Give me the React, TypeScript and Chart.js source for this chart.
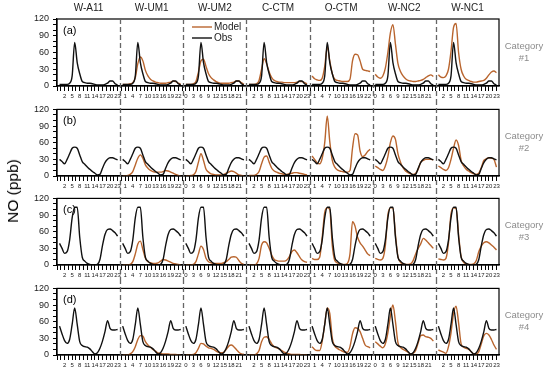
import React, { useEffect, useRef } from "react";
import { Chart, registerables } from "chart.js";

Chart.register(...registerables);

// ---------- data ----------
const groups = ["W-A11", "W-UM1", "W-UM2", "C-CTM", "O-CTM", "W-NC2", "W-NC1"];
const hours = [0, 1, 2, 3, 4, 5, 6, 7, 8, 9, 10, 11, 12, 13, 14, 15, 16, 17, 18, 19, 20, 21, 22, 23];
const yTickValues = [0, 30, 60, 90, 120];
const panelLetters = ["(a)", "(b)", "(c)", "(d)"];
const categoryNames = ["#1", "#2", "#3", "#4"];
const seriesNames = ["Obs", "Model"];

// Category #1
const obsCat1 = [3, 3, 3, 3, 5, 18, 78, 42, 22, 8, 6, 5, 5, 4, 3, 2, 2, 2, 3, 5, 9, 9, 4, 2];
const cat1WUM1 = [3, 3, 3, 4, 6, 15, 40, 52, 45, 28, 18, 12, 9, 7, 6, 5, 5, 5, 6, 7, 9, 8, 5, 3];
const cat1WUM2 = [3, 3, 3, 4, 8, 25, 45, 48, 35, 22, 15, 11, 8, 6, 5, 5, 5, 5, 6, 7, 9, 9, 6, 3];
const cat1CCTM = [3, 3, 3, 4, 10, 30, 49, 40, 25, 15, 10, 8, 7, 7, 6, 6, 6, 6, 6, 7, 8, 8, 6, 4];
const cat1OCTM = [18, 13, 11, 10, 14, 35, 70, 45, 22, 12, 10, 9, 8, 8, 8, 12, 45, 57, 56, 45, 30, 28, 27, 26];
const cat1WNC2 = [21, 16, 14, 18, 32, 60, 95, 110, 75, 40, 26, 18, 13, 10, 9, 8, 8, 9, 10, 12, 15, 18, 20, 17];
const cat1WNC1 = [20, 16, 15, 18, 30, 62, 105, 112, 60, 30, 18, 12, 10, 8, 7, 7, 8, 9, 10, 14, 20, 25, 27, 24];

// Category #2
const obsCat2 = [30, 26, 22, 30, 40, 50, 52, 50, 38, 26, 21, 16, 12, 8, 5, 2, 3, 14, 24, 30, 33, 33, 31, 29];
const cat2WUM1 = [0, 0, 1, 3, 8, 20, 32, 38, 32, 20, 14, 10, 8, 7, 7, 7, 8, 10, 9, 7, 5, 3, 1, 0];
const cat2WUM2 = [0, 0, 1, 2, 8, 25, 40, 28, 12, 7, 4, 3, 2, 2, 2, 3, 5, 7, 9, 8, 5, 2, 1, 0];
const cat2CCTM = [1, 1, 1, 3, 8, 22, 34, 36, 25, 14, 9, 7, 5, 4, 3, 3, 4, 5, 6, 6, 5, 4, 3, 2];
const cat2OCTM = [36, 30, 24, 22, 32, 60, 108, 62, 28, 16, 11, 9, 8, 7, 7, 10, 50, 76, 74, 45, 35, 38, 44, 48];
const cat2WNC2 = [18, 15, 12, 10, 18, 35, 60, 72, 66, 40, 25, 15, 9, 6, 4, 3, 5, 12, 25, 28, 30, 30, 30, 29];
const cat2WNC1 = [18, 15, 12, 10, 15, 30, 50, 65, 55, 28, 18, 12, 9, 6, 4, 3, 5, 15, 28, 31, 33, 32, 30, 16];

// Category #3
const obsCat3 = [39, 30, 21, 24, 45, 85, 104, 104, 50, 14, 7, 3, 1, 0, 0, 1, 10, 35, 55, 64, 65, 62, 58, 52];
const cat3WUM1 = [0, 0, 0, 1, 6, 20, 38, 43, 28, 12, 6, 4, 3, 3, 4, 7, 10, 9, 7, 5, 3, 2, 1, 0];
const cat3WUM2 = [0, 0, 0, 1, 6, 20, 34, 28, 12, 6, 4, 3, 3, 3, 3, 4, 6, 10, 14, 15, 14, 8, 3, 1];
const cat3CCTM = [0, 0, 0, 2, 12, 36, 42, 40, 30, 18, 10, 8, 7, 7, 7, 9, 15, 24, 27, 22, 15, 9, 6, 5];
const cat3OCTM = [12, 10, 10, 14, 50, 95, 103, 100, 35, 8, 4, 2, 1, 1, 3, 20, 78, 70, 50, 40, 34, 27, 20, 17];
const cat3WNC2 = [12, 10, 9, 12, 35, 90, 103, 103, 55, 15, 5, 2, 1, 1, 2, 8, 20, 30, 38, 48, 45, 40, 35, 30];
const cat3WNC1 = [11, 10, 9, 12, 40, 92, 103, 102, 55, 15, 5, 2, 1, 1, 2, 8, 24, 34, 40, 42, 40, 36, 32, 27];

// Category #4
const obsCat4 = [52, 38, 26, 21, 28, 55, 85, 55, 24, 17, 15, 14, 11, 6, 2, 4, 12, 25, 42, 62, 48, 45, 45, 46];
const cat4WUM1 = [0, 0, 0, 2, 6, 15, 28, 35, 34, 24, 18, 14, 10, 7, 4, 3, 2, 2, 2, 1, 1, 1, 0, 0];
const cat4WUM2 = [0, 0, 0, 1, 4, 12, 21, 20, 16, 13, 12, 10, 7, 5, 4, 5, 10, 16, 18, 15, 10, 5, 2, 1];
const cat4CCTM = [0, 0, 0, 2, 8, 24, 32, 33, 28, 20, 15, 13, 11, 8, 5, 3, 2, 1, 1, 1, 1, 0, 0, 0];
const cat4OCTM = [15, 10, 8, 8, 25, 55, 85, 75, 30, 16, 12, 9, 7, 5, 5, 15, 38, 49, 48, 42, 30, 18, 15, 13];
const cat4WNC2 = [24, 20, 16, 13, 20, 40, 70, 90, 60, 22, 14, 10, 8, 5, 2, 3, 8, 22, 35, 36, 33, 32, 30, 25];
const cat4WNC1 = [9, 7, 5, 3, 15, 40, 75, 88, 58, 20, 14, 12, 10, 6, 2, 2, 6, 20, 35, 39, 36, 28, 18, 10];

const obsByCat = [obsCat1, obsCat2, obsCat3, obsCat4];
const modelByCat = [
  [null, cat1WUM1, cat1WUM2, cat1CCTM, cat1OCTM, cat1WNC2, cat1WNC1],
  [null, cat2WUM1, cat2WUM2, cat2CCTM, cat2OCTM, cat2WNC2, cat2WNC1],
  [null, cat3WUM1, cat3WUM2, cat3CCTM, cat3OCTM, cat3WNC2, cat3WNC1],
  [null, cat4WUM1, cat4WUM2, cat4CCTM, cat4OCTM, cat4WNC2, cat4WNC1],
];

// ---------- layout / style ----------
const SLOTS = 25; // 24 hours + 1 gap slot per group
const W = 550;
const rows = [
  { top: 0, height: 100, plotTop: 19, plotBottom: 86 },
  { top: 100, height: 89, plotTop: 109, plotBottom: 176 },
  { top: 189, height: 90, plotTop: 198, plotBottom: 265 },
  { top: 279, height: 97, plotTop: 288, plotBottom: 355 },
];
const FONT = "'Liberation Sans', Arial, sans-serif";
const OBS_COLOR = "#111111";
const MODEL_COLOR = "#B9652E";

function toPoints(perGroup: (number[] | null)[]) {
  const pts: { x: number; y: number | null }[] = [];
  perGroup.forEach((vals, g) => {
    hours.forEach((h) => pts.push({ x: g * SLOTS + h, y: vals ? vals[h] : null }));
    pts.push({ x: g * SLOTS + 24, y: null });
  });
  return pts;
}

const xTickPositions: number[] = [];
for (let v = -1; v <= groups.length * SLOTS - 1; v += 1.5) xTickPositions.push(v);

const decorPlugin = {
  id: "decor",
  afterDraw(chart: any, _args: any, opts: any) {
    const { ctx, chartArea: a, scales } = chart;
    const xs = scales.x;
    const r = opts.row as number;
    ctx.save();
    // frame
    ctx.strokeStyle = "#000";
    ctx.lineWidth = 1.2;
    ctx.strokeRect(a.left, a.top, a.right - a.left, a.bottom - a.top);
    // dashed separators
    ctx.setLineDash([5, 3]);
    ctx.strokeStyle = "#666";
    ctx.lineWidth = 1.3;
    const y0 = r === 0 ? a.top : 0;
    const y1 = r === rows.length - 1 ? a.bottom + 3 : chart.height;
    for (let g = 0; g < groups.length - 1; g++) {
      const x = Math.round(xs.getPixelForValue(g * SLOTS + 24)) + 0.5;
      ctx.beginPath();
      ctx.moveTo(x, y0);
      ctx.lineTo(x, y1);
      ctx.stroke();
    }
    ctx.setLineDash([]);
    // panel letter
    ctx.fillStyle = "#000";
    ctx.font = `11px ${FONT}`;
    ctx.textAlign = "left";
    ctx.textBaseline = "middle";
    ctx.fillText(panelLetters[r], a.left + 6, a.top + 12);
    // category label
    const mid = (a.top + a.bottom) / 2;
    ctx.fillStyle = "#8c8c8c";
    ctx.font = `9.5px ${FONT}`;
    ctx.textAlign = "center";
    ctx.fillText("Category", 524, mid - 6);
    ctx.fillText(categoryNames[r], 524, mid + 6);
    if (r === 0) {
      // column titles
      ctx.fillStyle = "#222";
      ctx.font = `10px ${FONT}`;
      groups.forEach((name, g) => {
        const x = xs.getPixelForValue(g * SLOTS + 11.5);
        ctx.fillText(name, x, 8.5);
      });
      // legend
      const ds = chart.data.datasets;
      const items = [ds[1], ds[0]];
      items.forEach((d: any, i: number) => {
        const y = 27 + i * 11;
        ctx.strokeStyle = d.borderColor;
        ctx.lineWidth = 1.4;
        ctx.beginPath();
        ctx.moveTo(192, y);
        ctx.lineTo(212, y);
        ctx.stroke();
        ctx.fillStyle = "#222";
        ctx.font = `10px ${FONT}`;
        ctx.textAlign = "left";
        ctx.fillText(d.label, 214, y);
      });
    }
    ctx.restore();
  },
};

function makeConfig(r: number): any {
  const row = rows[r];
  return {
    type: "line",
    data: {
      datasets: [
        {
          label: seriesNames[0],
          data: toPoints(groups.map(() => obsByCat[r])),
          borderColor: OBS_COLOR,
          borderWidth: 1.4,
          pointRadius: 0,
          cubicInterpolationMode: "monotone",
          spanGaps: false,
          fill: false,
        },
        {
          label: seriesNames[1],
          data: toPoints(modelByCat[r]),
          borderColor: MODEL_COLOR,
          borderWidth: 1.4,
          pointRadius: 0,
          cubicInterpolationMode: "monotone",
          spanGaps: false,
          fill: false,
        },
      ],
    },
    options: {
      responsive: false,
      animation: false,
      devicePixelRatio: 1,
      layout: { padding: { top: row.plotTop - row.top, left: 0, right: W - 499, bottom: 0 } },
      plugins: {
        legend: { display: false },
        tooltip: { enabled: false },
        decor: { row: r },
      },
      scales: {
        x: {
          type: "linear",
          min: -1,
          max: groups.length * SLOTS - 1,
          afterBuildTicks: (ax: any) => {
            ax.ticks = xTickPositions.map((v) => ({ value: v }));
          },
          afterFit: (s: any) => {
            s.height = row.top + row.height - row.plotBottom;
          },
          ticks: {
            autoSkip: false,
            maxRotation: 0,
            minRotation: 0,
            padding: 2,
            color: "#222",
            font: { family: FONT, size: 6 },
            callback: (v: number) => {
              if (v >= 0 && Number.isInteger(v) && v % 3 === 2 && v % SLOTS !== 24) return String(v % SLOTS);
              return "";
            },
          },
          grid: { drawOnChartArea: false, drawTicks: true, tickLength: 5, color: "#000", lineWidth: 1 },
          border: { display: true, color: "#000", width: 1.2 },
        },
        y: {
          min: 0,
          max: 120,
          afterFit: (s: any) => {
            s.width = 57;
          },
          ticks: {
            stepSize: 10,
            autoSkip: false,
            padding: 4,
            color: "#222",
            font: { family: FONT, size: 9 },
            callback: (v: number) => (yTickValues.includes(v) ? String(v) : ""),
          },
          grid: { drawOnChartArea: false, drawTicks: true, tickLength: 4, color: "#000", lineWidth: 1 },
          border: { display: true, color: "#000", width: 1.2 },
        },
      },
    },
    plugins: [decorPlugin],
  };
}

export default function App() {
  const refs = useRef<(HTMLCanvasElement | null)[]>([]);
  useEffect(() => {
    const charts = rows.map((_, r) => {
      const c = refs.current[r]!;
      return new Chart(c, makeConfig(r));
    });
    return () => charts.forEach((ch) => ch.destroy());
  }, []);
  return (
    <div style={{ position: "absolute", left: 0, top: 0, width: W, height: 376, background: "#fff", overflow: "hidden" }}>
      {rows.map((row, r) => (
        <canvas
          key={r}
          ref={(el) => {
            refs.current[r] = el;
          }}
          width={W}
          height={row.height}
          style={{ position: "absolute", left: 0, top: row.top, width: W, height: row.height }}
        />
      ))}
      <div
        style={{
          position: "absolute",
          left: 13,
          top: 191,
          transform: "translate(-50%, -50%) rotate(-90deg)",
          fontFamily: FONT,
          fontSize: 15.5,
          fontWeight: "normal",
          whiteSpace: "nowrap",
          color: "#000",
        }}
      >
        NO (ppb)
      </div>
    </div>
  );
}
